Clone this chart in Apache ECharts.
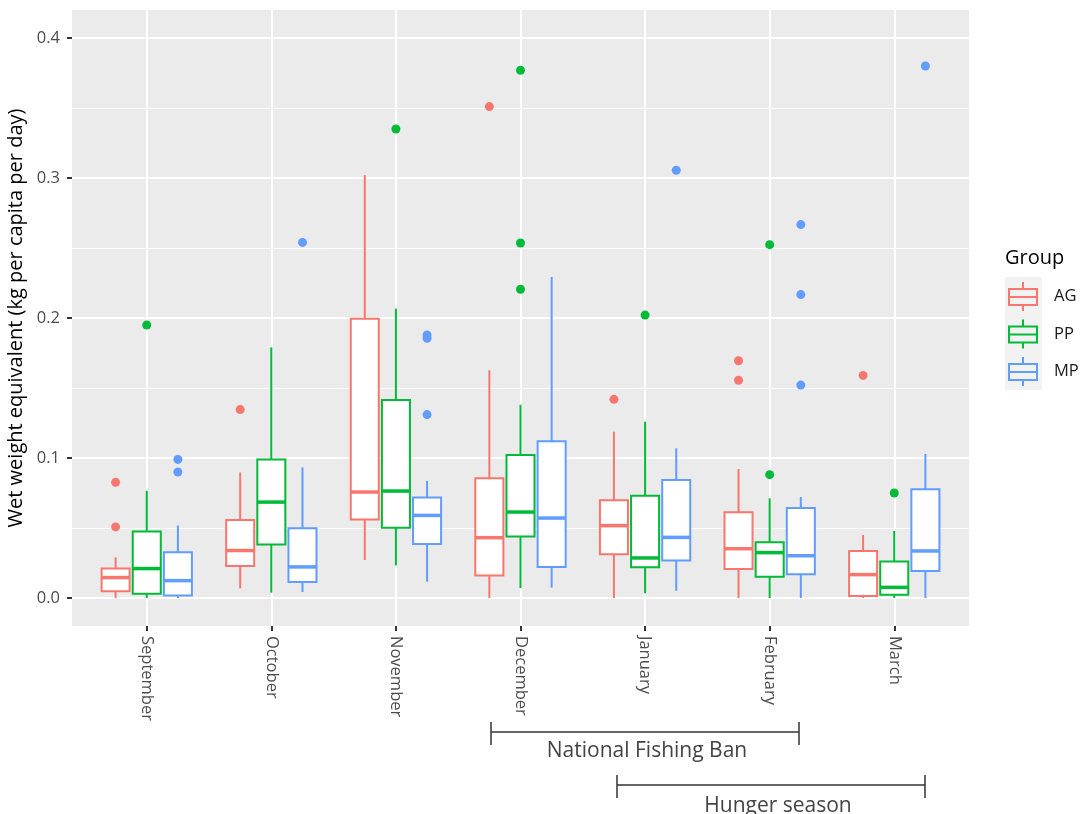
<!DOCTYPE html>
<html><head><meta charset="utf-8">
<script src="https://cdn.jsdelivr.net/npm/echarts@6/dist/echarts.min.js"></script>
<style>html,body{margin:0;padding:0;background:#fff}#c{width:1085px;height:814px}</style>
</head><body><div id="c"></div>
<script>
const months = ['September','October','November','December','January','February','March'];
const groups = ['AG','PP','MP'];
const colors = ['#F8766D','#00BA38','#619CFF'];
const yTicks = [0, 0.1, 0.2, 0.3, 0.4];
const yMinorTicks = [0.05, 0.15, 0.25, 0.35];

// [lower whisker, Q1, median, Q3, upper whisker], one row per month
const boxAG = [
  [0.000, 0.0048, 0.0146, 0.0210, 0.0290],
  [0.0069, 0.0229, 0.0339, 0.0558, 0.0897],
  [0.0271, 0.0560, 0.0757, 0.1995, 0.3020],
  [0.000, 0.0160, 0.0431, 0.0855, 0.1626],
  [0.000, 0.0312, 0.0517, 0.0698, 0.1188],
  [0.000, 0.0207, 0.0352, 0.0612, 0.0921],
  [0.000, 0.0014, 0.0167, 0.0336, 0.0450]
];
const boxPP = [
  [0.000, 0.0031, 0.0210, 0.0475, 0.0766],
  [0.0038, 0.0382, 0.0685, 0.0990, 0.1790],
  [0.0233, 0.0502, 0.0764, 0.1414, 0.2067],
  [0.0071, 0.0440, 0.0614, 0.1021, 0.1380],
  [0.0033, 0.0219, 0.0286, 0.0731, 0.1260],
  [0.000, 0.0152, 0.0324, 0.0398, 0.0712],
  [0.000, 0.0024, 0.0076, 0.0260, 0.0479]
];
const boxMP = [
  [0.000, 0.0017, 0.0124, 0.0327, 0.0518],
  [0.0043, 0.0115, 0.0222, 0.0499, 0.0933],
  [0.0117, 0.0386, 0.0590, 0.0717, 0.0836],
  [0.0074, 0.0221, 0.0571, 0.1119, 0.2293],
  [0.0052, 0.0267, 0.0433, 0.0843, 0.1069],
  [0.000, 0.0169, 0.0302, 0.0643, 0.0721],
  [0.000, 0.0193, 0.0336, 0.0776, 0.1029]
];
// outliers: [month index (0-based), value]
const outAG = [[0,0.0826],[0,0.0508],[1,0.1346],[3,0.351],[4,0.1419],[5,0.1695],[5,0.1555],[6,0.159]];
const outPP = [[0,0.195],[2,0.335],[3,0.377],[3,0.2536],[3,0.2205],[4,0.2021],[5,0.2524],[5,0.0881],[6,0.075]];
const outMP = [[0,0.099],[0,0.090],[1,0.254],[2,0.1879],[2,0.1855],[2,0.131],[4,0.3055],[5,0.2667],[5,0.2167],[5,0.1521],[6,0.38]];

const boxes = [boxAG, boxPP, boxMP];
const outs = [outAG, outPP, outMP];
const dodge = [-0.25, 0, 0.25];
const boxW = 0.225;
const FONT = 'Open Sans';

const chart = echarts.init(document.getElementById('c'), null, {renderer: 'canvas'});

function makeRender(gi) {
  return function (params, api) {
    const xc = api.value(0) + dodge[gi];
    const lo = api.coord([xc, api.value(1)]);
    const q1 = api.coord([xc, api.value(2)]);
    const md = api.coord([xc, api.value(3)]);
    const q3 = api.coord([xc, api.value(4)]);
    const hi = api.coord([xc, api.value(5)]);
    const xl = api.coord([xc - boxW / 2, 0])[0];
    const xr = api.coord([xc + boxW / 2, 0])[0];
    const col = colors[gi];
    return {
      type: 'group',
      children: [
        {type: 'line', shape: {x1: hi[0], y1: hi[1], x2: q3[0], y2: q3[1]}, style: {stroke: col, lineWidth: 2}},
        {type: 'line', shape: {x1: lo[0], y1: lo[1], x2: q1[0], y2: q1[1]}, style: {stroke: col, lineWidth: 2}},
        {type: 'rect', shape: {x: xl, y: q3[1], width: xr - xl, height: q1[1] - q3[1]}, style: {fill: '#fff', stroke: col, lineWidth: 2}},
        {type: 'line', shape: {x1: xl, y1: md[1], x2: xr, y2: md[1]}, style: {stroke: col, lineWidth: 3.5}}
      ]
    };
  };
}

const series = [];
groups.forEach((g, gi) => {
  series.push({
    name: g,
    type: 'custom',
    itemStyle: {color: colors[gi]},
    renderItem: makeRender(gi),
    encode: {x: 0, y: [1, 2, 3, 4, 5]},
    data: boxes[gi].map((r, i) => [i + 1].concat(r)),
    z: 3
  });
});
groups.forEach((g, gi) => {
  series.push({
    name: g,
    type: 'scatter',
    symbol: 'circle',
    symbolSize: 9,
    itemStyle: {color: colors[gi], opacity: 1},
    data: outs[gi].map(p => [p[0] + 1 + dodge[gi], p[1]]),
    z: 4
  });
});

const icon = 'path://M14,0H16V6H14Z M0,6H30V8H0Z M0,22H30V24H0Z M0,8H2V22H0Z M28,8H30V22H28Z M2,14H28V16H2Z M14,24H16V29H14Z';

chart.setOption({
  animation: false,
  color: colors,
  grid: {left: 72, right: 116, top: 10, bottom: 188, show: true, backgroundColor: '#EBEBEB', borderWidth: 0,
    containLabel: false, outerBoundsMode: 'none'},
  xAxis: {
    type: 'value', min: 0.4, max: 7.6,
    axisLine: {show: false, onZero: false},
    axisTick: {show: true, customValues: [1,2,3,4,5,6,7], length: 5, lineStyle: {color: '#333', width: 2}},
    axisLabel: {customValues: [1,2,3,4,5,6,7], formatter: v => months[Math.round(v) - 1], rotate: -90, margin: 10,
      fontSize: 16.5, color: '#4D4D4D', fontFamily: FONT},
    splitLine: {show: true, lineStyle: {color: '#fff', width: 2}}
  },
  yAxis: [{
    type: 'value', min: -0.02, max: 0.42,
    name: 'Wet weight equivalent (kg per capita per day)',
    nameLocation: 'middle', nameRotate: 90, nameGap: 44,
    nameTextStyle: {fontSize: 20, color: '#000', fontFamily: FONT},
    axisLine: {show: false, onZero: false},
    axisTick: {show: true, customValues: yTicks, length: 5, lineStyle: {color: '#333', width: 2}},
    axisLabel: {customValues: yTicks, formatter: v => v.toFixed(1), margin: 12, fontSize: 16.5, color: '#4D4D4D', fontFamily: FONT},
    splitLine: {show: true, lineStyle: {color: '#fff', width: 2}}
  }, {
    type: 'value', min: -0.02, max: 0.42,
    axisLine: {show: false, onZero: false},
    axisTick: {show: false, customValues: yMinorTicks},
    axisLabel: {show: false, customValues: yMinorTicks},
    splitLine: {show: true, lineStyle: {color: '#fff', width: 1}}
  }],
  legend: {
    data: groups,
    orient: 'vertical',
    left: 1008, top: 282, padding: 0,
    itemWidth: 30, itemHeight: 29, itemGap: 8.5,
    icon: icon,
    itemStyle: {borderWidth: 0},
    textStyle: {fontSize: 16.5, color: '#1a1a1a', fontFamily: FONT, padding: [0, 0, 0, 11]},
    selectedMode: false,
    z: 10
  },
  graphic: [
    {type: 'rect', left: 1005, top: 277, z: 0, shape: {width: 37, height: 113}, style: {fill: '#F2F2F2'}},
    {type: 'text', x: 1005, y: 258, style: {text: 'Group', font: '20px "Open Sans"', fill: '#000', verticalAlign: 'middle'}},
    {type: 'line', shape: {x1: 491, y1: 732, x2: 799, y2: 732}, style: {stroke: '#333', lineWidth: 1.5}},
    {type: 'line', shape: {x1: 491, y1: 722, x2: 491, y2: 745}, style: {stroke: '#333', lineWidth: 1.5}},
    {type: 'line', shape: {x1: 799, y1: 722, x2: 799, y2: 745}, style: {stroke: '#333', lineWidth: 1.5}},
    {type: 'text', x: 647, y: 751, style: {text: 'National Fishing Ban', font: '21px "Open Sans"', fill: '#444', align: 'center', verticalAlign: 'middle'}},
    {type: 'line', shape: {x1: 617, y1: 785, x2: 925, y2: 785}, style: {stroke: '#333', lineWidth: 1.5}},
    {type: 'line', shape: {x1: 617, y1: 775, x2: 617, y2: 798}, style: {stroke: '#333', lineWidth: 1.5}},
    {type: 'line', shape: {x1: 925, y1: 775, x2: 925, y2: 798}, style: {stroke: '#333', lineWidth: 1.5}},
    {type: 'text', x: 778, y: 806, style: {text: 'Hunger season', font: '21px "Open Sans"', fill: '#444', align: 'center', verticalAlign: 'middle'}}
  ],
  series: series
});
</script></body></html>
